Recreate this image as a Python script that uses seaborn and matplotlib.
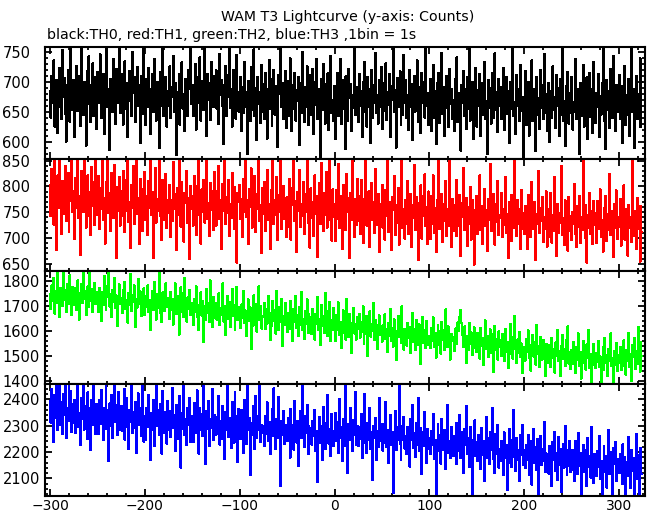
import numpy as np
import matplotlib
matplotlib.use("Agg")
import matplotlib.pyplot as plt
from matplotlib.ticker import MultipleLocator
import seaborn as sns

# ---------------- data (counts per 1 s bin, t = -300 ... 324 s) ----------------
t_start = -300

th0 = [
684, 640, 709, 664, 735, 625, 670, 702, 615, 692, 723, 658, 637, 752, 675, 706, 646, 600, 695, 719, 668, 633, 763, 686, 653,
702, 608, 677, 726, 651, 710, 689, 626, 777, 667, 644, 699, 681, 593, 717, 663, 742, 695, 632, 670, 730, 642, 707, 685, 621,
716, 665, 692, 745, 639, 679, 712, 612, 700, 668, 768, 657, 688, 586, 705, 675, 650, 737, 693, 630, 721, 682, 664, 756, 647,
691, 713, 628, 674, 734, 654, 698, 607, 686, 717, 667, 643, 749, 681, 707, 633, 671, 724, 660, 695, 597, 710, 678, 646, 770,
673, 628, 705, 657, 723, 688, 613, 678, 712, 649, 737, 666, 635, 699, 681, 589, 716, 659, 694, 755, 642, 676, 708, 625, 685,
659, 725, 639, 691, 674, 743, 650, 698, 578, 683, 667, 713, 628, 692, 732, 655, 680, 617, 705, 671, 642, 720, 688, 767, 662,
695, 643, 674, 729, 620, 708, 664, 687, 740, 635, 701, 677, 653, 781, 690, 610, 713, 669, 698, 636, 733, 684, 657, 709, 673,
719, 655, 692, 629, 746, 678, 702, 659, 596, 694, 726, 643, 711, 674, 776, 656, 687, 625, 720, 669, 699, 638, 744, 683, 650,
670, 708, 617, 691, 647, 732, 658, 682, 579, 701, 665, 634, 724, 675, 652, 754, 642, 689, 603, 707, 662, 683, 631, 728, 649,
696, 638, 714, 662, 605, 687, 736, 655, 704, 626, 675, 719, 645, 693, 668, 591, 711, 679, 770, 658, 698, 638, 684, 718, 623,
661, 701, 642, 739, 676, 617, 694, 654, 715, 635, 686, 668, 708, 595, 698, 648, 749, 673, 633, 691, 658, 725, 627, 682, 711,
645, 677, 721, 612, 700, 661, 738, 638, 687, 669, 572, 705, 652, 729, 676, 630, 696, 659, 714, 619, 683, 743, 648, 670, 634,
692, 604, 677, 714, 642, 665, 737, 629, 702, 654, 684, 587, 709, 661, 635, 721, 672, 696, 618, 678, 656, 763, 644, 691, 667,
633, 713, 660, 684, 608, 700, 650, 733, 671, 625, 707, 658, 688, 598, 719, 640, 695, 664, 748, 647, 677, 630, 703, 657, 724,
672, 621, 698, 651, 730, 636, 682, 661, 712, 607, 693, 670, 773, 649, 686, 590, 706, 657, 675, 717, 628, 691, 644, 744, 664,
702, 639, 678, 619, 719, 658, 696, 602, 684, 709, 650, 671, 735, 633, 691, 654, 614, 714, 665, 699, 640, 758, 660, 681, 628,
679, 705, 618, 662, 728, 639, 684, 596, 697, 651, 715, 631, 670, 747, 646, 691, 609, 676, 709, 656, 625, 721, 663, 688, 638,
669, 617, 704, 649, 740, 632, 681, 658, 585, 694, 665, 718, 642, 687, 621, 708, 655, 758, 635, 673, 700, 604, 679, 648, 723,
625, 686, 660, 712, 609, 697, 645, 677, 733, 638, 667, 579, 702, 656, 690, 630, 715, 665, 639, 747, 652, 683, 616, 704, 659,
691, 637, 673, 722, 620, 662, 708, 646, 684, 597, 700, 655, 677, 768, 642, 666, 613, 711, 659, 688, 634, 728, 651, 674, 565,
669, 718, 628, 659, 700, 610, 681, 649, 735, 634, 665, 688, 585, 708, 644, 673, 621, 719, 656, 695, 638, 746, 648, 679, 617,
663, 698, 599, 684, 639, 725, 652, 674, 623, 711, 659, 690, 609, 705, 645, 763, 634, 667, 593, 693, 655, 716, 630, 681, 648,
707, 620, 666, 649, 737, 637, 687, 660, 579, 698, 642, 674, 728, 625, 680, 655, 707, 604, 667, 715, 641, 688, 614, 733, 652,
631, 681, 658, 712, 607, 676, 645, 697, 758, 635, 665, 588, 702, 652, 684, 623, 721, 662, 639, 743, 669, 618, 695, 649, 680,
711, 638, 673, 597, 693, 655, 726, 628, 677, 645, 704, 610, 665, 771, 649, 688, 590, 672, 709, 637, 680, 659, 739, 624, 700,
]

th1 = [
802, 742, 834, 767, 726, 859, 785, 676, 821, 758, 879, 777, 708, 810, 747, 795, 840, 732, 764, 826, 712, 805, 772, 873, 751,
790, 698, 817, 758, 853, 739, 782, 667, 830, 769, 750, 870, 799, 720, 765, 821, 743, 789, 705, 837, 762, 809, 726, 880, 779,
745, 820, 718, 797, 757, 850, 734, 777, 689, 809, 766, 868, 749, 788, 713, 826, 770, 739, 841, 759, 661, 799, 753, 818, 724,
791, 742, 830, 711, 774, 812, 752, 860, 731, 769, 681, 802, 759, 840, 727, 786, 884, 746, 777, 689, 815, 765, 713, 795, 739,
828, 735, 782, 706, 810, 759, 864, 745, 789, 661, 769, 835, 730, 776, 752, 852, 742, 793, 696, 812, 763, 734, 824, 719, 773,
749, 803, 701, 773, 733, 848, 756, 785, 676, 796, 745, 878, 766, 722, 809, 753, 693, 788, 768, 830, 729, 777, 659, 801, 757,
782, 724, 820, 762, 705, 800, 745, 859, 769, 689, 794, 750, 813, 730, 776, 887, 737, 768, 703, 807, 755, 790, 715, 828, 743,
724, 790, 760, 839, 736, 773, 679, 804, 753, 857, 728, 780, 748, 812, 703, 766, 739, 826, 777, 718, 798, 757, 652, 788, 769,
803, 736, 776, 701, 814, 751, 869, 740, 774, 688, 795, 761, 835, 720, 769, 746, 820, 711, 785, 757, 881, 733, 764, 670, 797,
746, 809, 714, 777, 832, 735, 766, 678, 793, 756, 850, 727, 774, 744, 818, 696, 783, 751, 861, 717, 767, 801, 737, 777, 702,
779, 722, 814, 747, 697, 796, 763, 876, 732, 771, 673, 789, 753, 831, 721, 765, 742, 809, 707, 785, 750, 856, 729, 774, 681,
796, 738, 769, 703, 821, 747, 782, 664, 763, 807, 727, 846, 752, 714, 787, 744, 828, 720, 773, 734, 891, 756, 695, 794, 741,
766, 695, 792, 737, 843, 719, 755, 782, 678, 803, 743, 766, 715, 824, 751, 778, 661, 787, 734, 850, 755, 702, 776, 726, 814,
732, 781, 708, 812, 750, 690, 776, 741, 869, 724, 763, 790, 683, 755, 806, 734, 770, 710, 833, 746, 725, 785, 672, 766, 745,
803, 720, 758, 697, 793, 743, 860, 712, 769, 739, 676, 779, 754, 820, 706, 764, 730, 797, 687, 774, 750, 879, 719, 757, 699,
773, 728, 811, 707, 752, 786, 682, 763, 738, 842, 716, 779, 748, 657, 767, 735, 802, 699, 781, 742, 823, 723, 760, 689, 790,
745, 698, 782, 727, 821, 710, 758, 672, 773, 737, 856, 717, 749, 786, 692, 766, 733, 810, 703, 756, 724, 889, 741, 682, 775,
714, 763, 733, 813, 703, 753, 724, 784, 665, 768, 740, 836, 715, 747, 778, 684, 759, 728, 799, 697, 773, 736, 648, 754, 724,
782, 708, 747, 821, 716, 762, 689, 740, 794, 724, 755, 674, 775, 734, 843, 713, 751, 727, 786, 687, 766, 731, 810, 705, 744,
738, 787, 701, 756, 725, 819, 710, 746, 661, 769, 731, 784, 694, 753, 720, 876, 742, 704, 773, 727, 757, 679, 792, 717, 749,
707, 762, 732, 679, 784, 720, 753, 702, 809, 737, 717, 770, 657, 746, 727, 829, 709, 758, 732, 779, 692, 741, 718, 790, 683,
756, 702, 735, 787, 691, 745, 714, 818, 726, 665, 765, 710, 749, 730, 839, 705, 738, 686, 773, 723, 754, 675, 780, 713, 742,
696, 750, 728, 805, 708, 683, 761, 721, 781, 690, 740, 715, 869, 732, 700, 764, 652, 745, 719, 788, 707, 752, 689, 771, 725,
748, 691, 771, 717, 741, 794, 702, 734, 673, 758, 723, 782, 694, 747, 715, 824, 706, 752, 731, 664, 765, 719, 792, 698, 740,
722, 776, 685, 743, 710, 802, 697, 756, 732, 666, 764, 720, 741, 693, 851, 729, 703, 752, 679, 778, 717, 746, 654, 762, 711,
]

th2 = [
1745, 1687, 1781, 1718, 1812, 1669, 1757, 1713, 1834, 1734, 1654, 1770, 1749, 1699, 1869, 1725, 1764, 1675, 1788, 1739, 1706, 1822, 1750, 1662, 1776,
1705, 1771, 1732, 1682, 1801, 1749, 1645, 1739, 1788, 1712, 1833, 1728, 1759, 1663, 1746, 1778, 1697, 1866, 1718, 1768, 1675, 1743, 1791, 1707, 1753,
1737, 1674, 1771, 1722, 1639, 1753, 1704, 1820, 1726, 1685, 1779, 1734, 1859, 1697, 1747, 1656, 1764, 1716, 1810, 1692, 1741, 1618, 1732, 1785, 1706,
1732, 1671, 1763, 1711, 1795, 1686, 1722, 1633, 1752, 1703, 1827, 1678, 1741, 1715, 1781, 1615, 1728, 1693, 1806, 1707, 1757, 1658, 1746, 1697, 1770,
1663, 1738, 1694, 1781, 1676, 1721, 1603, 1705, 1760, 1683, 1796, 1700, 1645, 1745, 1690, 1841, 1670, 1725, 1634, 1754, 1707, 1680, 1789, 1696, 1732,
1709, 1646, 1755, 1682, 1726, 1625, 1702, 1789, 1667, 1740, 1692, 1584, 1714, 1773, 1674, 1751, 1656, 1810, 1695, 1637, 1733, 1686, 1763, 1663, 1710,
1690, 1624, 1728, 1675, 1777, 1654, 1701, 1602, 1685, 1753, 1661, 1718, 1554, 1697, 1644, 1766, 1671, 1711, 1636, 1801, 1680, 1616, 1735, 1687, 1650,
1710, 1645, 1677, 1749, 1624, 1690, 1662, 1789, 1637, 1700, 1584, 1675, 1740, 1649, 1715, 1616, 1684, 1767, 1661, 1704, 1602, 1679, 1775, 1642, 1694,
1669, 1611, 1705, 1652, 1760, 1630, 1681, 1579, 1659, 1725, 1638, 1693, 1526, 1673, 1621, 1742, 1649, 1708, 1597, 1676, 1777, 1642, 1700, 1609, 1660,
1656, 1710, 1608, 1688, 1629, 1740, 1645, 1563, 1671, 1621, 1720, 1639, 1682, 1589, 1759, 1650, 1604, 1696, 1636, 1727, 1540, 1659, 1624, 1712, 1643,
1596, 1669, 1631, 1719, 1606, 1651, 1560, 1687, 1635, 1740, 1612, 1661, 1578, 1696, 1623, 1754, 1602, 1648, 1568, 1680, 1627, 1725, 1591, 1665, 1617,
1653, 1588, 1688, 1614, 1565, 1666, 1627, 1735, 1603, 1646, 1543, 1704, 1621, 1660, 1592, 1750, 1634, 1578, 1677, 1611, 1714, 1558, 1641, 1604, 1690,
1624, 1558, 1662, 1603, 1713, 1585, 1635, 1531, 1613, 1681, 1593, 1645, 1564, 1727, 1615, 1576, 1667, 1600, 1510, 1631, 1691, 1589, 1625, 1565, 1655,
1608, 1668, 1573, 1633, 1596, 1698, 1547, 1618, 1586, 1659, 1498, 1611, 1677, 1577, 1628, 1601, 1709, 1562, 1643, 1589, 1527, 1621, 1661, 1582, 1604,
1556, 1621, 1586, 1665, 1568, 1605, 1514, 1630, 1581, 1686, 1561, 1610, 1537, 1645, 1593, 1484, 1598, 1659, 1574, 1614, 1550, 1698, 1585, 1525, 1607,
1596, 1541, 1631, 1572, 1613, 1512, 1587, 1671, 1557, 1608, 1524, 1642, 1575, 1544, 1625, 1562, 1466, 1593, 1656, 1552, 1604, 1531, 1639, 1579, 1545,
1577, 1531, 1612, 1561, 1653, 1537, 1590, 1492, 1572, 1624, 1545, 1598, 1509, 1636, 1563, 1604, 1524, 1685, 1568, 1534, 1617, 1552, 1485, 1586, 1559,
1573, 1520, 1605, 1547, 1612, 1634, 1598, 1655, 1682, 1630, 1584, 1535, 1617, 1554, 1471, 1580, 1523, 1632, 1548, 1593, 1503, 1569, 1614, 1531, 1563,
1514, 1590, 1543, 1489, 1611, 1538, 1570, 1462, 1553, 1641, 1527, 1578, 1496, 1559, 1605, 1511, 1585, 1434, 1548, 1620, 1522, 1566, 1485, 1597, 1534,
1561, 1500, 1586, 1532, 1479, 1607, 1515, 1554, 1452, 1544, 1627, 1507, 1575, 1488, 1542, 1659, 1525, 1472, 1565, 1512, 1595, 1495, 1549, 1432, 1533,
1534, 1481, 1567, 1514, 1602, 1490, 1544, 1440, 1523, 1583, 1497, 1556, 1465, 1622, 1507, 1539, 1454, 1574, 1517, 1485, 1563, 1528, 1420, 1548, 1502,
1473, 1541, 1508, 1454, 1571, 1493, 1528, 1433, 1553, 1499, 1602, 1480, 1517, 1420, 1538, 1584, 1486, 1525, 1459, 1563, 1504, 1618, 1469, 1513, 1447,
1522, 1468, 1554, 1497, 1431, 1535, 1484, 1589, 1461, 1514, 1409, 1496, 1560, 1472, 1528, 1445, 1545, 1491, 1602, 1452, 1505, 1392, 1487, 1547, 1465,
1450, 1509, 1477, 1560, 1457, 1497, 1387, 1485, 1536, 1445, 1572, 1471, 1504, 1420, 1526, 1480, 1589, 1460, 1492, 1369, 1518, 1464, 1551, 1438, 1501,
1472, 1535, 1443, 1512, 1461, 1561, 1488, 1425, 1524, 1478, 1590, 1456, 1507, 1401, 1542, 1495, 1572, 1446, 1519, 1468, 1615, 1486, 1436, 1554, 1500,
]

th3 = [
2394, 2311, 2439, 2352, 2237, 2415, 2328, 2479, 2285, 2376, 2503, 2303, 2388, 2267, 2419, 2341, 2464, 2253, 2367, 2317, 2499, 2334, 2433, 2276, 2383,
2311, 2397, 2272, 2359, 2450, 2294, 2346, 2227, 2406, 2324, 2496, 2285, 2376, 2335, 2248, 2427, 2314, 2367, 2206, 2399, 2303, 2465, 2350, 2268, 2383,
2349, 2269, 2398, 2305, 2435, 2332, 2245, 2368, 2287, 2458, 2319, 2360, 2167, 2384, 2298, 2417, 2252, 2344, 2494, 2314, 2377, 2263, 2428, 2329, 2284,
2374, 2279, 2339, 2439, 2247, 2323, 2404, 2296, 2212, 2359, 2314, 2472, 2272, 2351, 2290, 2391, 2197, 2327, 2422, 2303, 2367, 2262, 2456, 2311, 2239,
2336, 2245, 2367, 2295, 2417, 2313, 2168, 2348, 2284, 2399, 2222, 2326, 2515, 2299, 2358, 2266, 2383, 2312, 2194, 2431, 2305, 2271, 2351, 2232, 2395,
2283, 2357, 2258, 2324, 2443, 2293, 2339, 2203, 2378, 2303, 2250, 2413, 2313, 2140, 2346, 2286, 2465, 2266, 2327, 2227, 2366, 2304, 2405, 2237, 2335,
2319, 2239, 2387, 2302, 2273, 2434, 2327, 2194, 2365, 2284, 2344, 2260, 2485, 2303, 2156, 2357, 2287, 2394, 2222, 2324, 2291, 2439, 2246, 2340, 2309,
2266, 2332, 2291, 2412, 2228, 2317, 2251, 2375, 2304, 2175, 2353, 2282, 2461, 2258, 2329, 2290, 2216, 2391, 2311, 2235, 2426, 2270, 2338, 2161, 2364,
2309, 2248, 2359, 2278, 2197, 2397, 2300, 2232, 2461, 2283, 2328, 2114, 2310, 2265, 2376, 2290, 2211, 2414, 2254, 2335, 2285, 2521, 2237, 2302, 2272,
2300, 2222, 2336, 2269, 2388, 2240, 2313, 2192, 2286, 2364, 2259, 2441, 2278, 2210, 2325, 2254, 2409, 2293, 2070, 2317, 2264, 2355, 2230, 2304, 2276,
2241, 2329, 2276, 2178, 2364, 2258, 2301, 2209, 2395, 2283, 2236, 2317, 2147, 2293, 2355, 2252, 2464, 2268, 2220, 2338, 2272, 2378, 2191, 2297, 2257,
2292, 2228, 2319, 2261, 2358, 2203, 2281, 2085, 2257, 2334, 2236, 2298, 2170, 2371, 2266, 2212, 2310, 2253, 2417, 2232, 2289, 2186, 2344, 2267, 2221,
2279, 2347, 2242, 2315, 2196, 2402, 2252, 2296, 2164, 2325, 2269, 2464, 2221, 2286, 2119, 2305, 2247, 2368, 2273, 2205, 2321, 2263, 2426, 2228, 2297,
2221, 2296, 2251, 2343, 2178, 2270, 2235, 2420, 2261, 2195, 2311, 2244, 2368, 2210, 2276, 2093, 2298, 2252, 2328, 2171, 2279, 2220, 2405, 2241, 2307,
2271, 2205, 2307, 2236, 2390, 2220, 2282, 2159, 2254, 2342, 2226, 2275, 2045, 2261, 2355, 2209, 2293, 2244, 2457, 2229, 2169, 2297, 2247, 2332, 2213,
2259, 2193, 2294, 2232, 2145, 2324, 2245, 2379, 2215, 2271, 2182, 2310, 2228, 2406, 2205, 2253, 2291, 2117, 2274, 2221, 2352, 2236, 2159, 2287, 2210,
2253, 2193, 2279, 2228, 2345, 2173, 2246, 1992, 2216, 2305, 2204, 2264, 2156, 2327, 2233, 2209, 2284, 2137, 2258, 2377, 2195, 2243, 2177, 2296, 2230,
2185, 2260, 2222, 2310, 2153, 2241, 2202, 2341, 2177, 2275, 2215, 2120, 2286, 2225, 2376, 2192, 2253, 2143, 2296, 2208, 2033, 2246, 2185, 2320, 2219,
2239, 2166, 2263, 2201, 2136, 2290, 2190, 2242, 2089, 2217, 2334, 2179, 2253, 2154, 2277, 2206, 2367, 2172, 2229, 2120, 2269, 2194, 2302, 2141, 2213,
2165, 2242, 2189, 2114, 2274, 2177, 2226, 2054, 2201, 2289, 2158, 2246, 2142, 2217, 2361, 2182, 2127, 2254, 2170, 2208, 2091, 2266, 2190, 2303, 2152,
2207, 2140, 2227, 2170, 2265, 2111, 2191, 2242, 2076, 2200, 2287, 2157, 2219, 2132, 2249, 2024, 2181, 2259, 2150, 2210, 2164, 2314, 2123, 2195, 2168,
2192, 2118, 2223, 2158, 2070, 2239, 2171, 2277, 2129, 2197, 2092, 2256, 2151, 2211, 2049, 2179, 2232, 2141, 2300, 2164, 2111, 2207, 2147, 2241, 2125,
2133, 2206, 2154, 2089, 2241, 2165, 2116, 2273, 2148, 2197, 2038, 2175, 2228, 2126, 2207, 2159, 2070, 2253, 2143, 2186, 2103, 2294, 2162, 2082, 2193,
2179, 2108, 2205, 2143, 2262, 2098, 2167, 2021, 2153, 2224, 2123, 2186, 2065, 2164, 2282, 2118, 2199, 2137, 2041, 2216, 2156, 2238, 2091, 2172, 2135,
2121, 2194, 2151, 2078, 2230, 2134, 2180, 2005, 2163, 2109, 2257, 2142, 2065, 2209, 2127, 2176, 2040, 2155, 2270, 2096, 2188, 2027, 2145, 2216, 2116,
]

series = [th0, th1, th2, th3]
colors = ["#000000", "#ff0000", "#00ff00", "#0000ff"]
title = "WAM T3 Lightcurve (y-axis: Counts)"
subtitle = "black:TH0, red:TH1, green:TH2, blue:TH3 ,1bin = 1s"
x_major_ticks = [-300, -200, -100, 0, 100, 200, 300]

# ---------------- layout / style ----------------
W, H = 652, 515
sns.set_theme(style="ticks")
plt.rcParams["font.family"] = ["DejaVu Sans"]

fig = plt.figure(figsize=(W / 100, H / 100), dpi=100)
fig.patch.set_facecolor("white")

left_px, right_px = 45.0, 644.5
edges_px = [47.3, 159.0, 271.0, 384.0, 496.0]
ylims = [(571, 757), (636, 853), (1387, 1839), (2033, 2458)]
ymajor = [50, 50, 100, 100]
yminor = [10, 10, 20, 20]
xlim = (-305.3, 326.7)
label_left_px = 2.5

axes = []
for i, (vals, col) in enumerate(zip(series, colors)):
    top_px, bot_px = edges_px[i], edges_px[i + 1]
    ax = fig.add_axes([left_px / W, 1 - bot_px / H,
                       (right_px - left_px) / W, (bot_px - top_px) / H])
    t = np.arange(len(vals)) + t_start
    sns.lineplot(x=t, y=np.asarray(vals, dtype=float), ax=ax, color=col,
                 linewidth=0.75, drawstyle="steps-mid", estimator=None,
                 antialiased=False, legend=False)
    ax.set_xlim(*xlim)
    ax.set_ylim(*ylims[i])
    ax.set_xticks(x_major_ticks)
    ax.xaxis.set_minor_locator(MultipleLocator(20))
    ax.yaxis.set_major_locator(MultipleLocator(ymajor[i]))
    ax.yaxis.set_minor_locator(MultipleLocator(yminor[i]))
    ax.set_xlabel("")
    ax.set_ylabel("")
    ax.set_facecolor("white")
    ax.grid(False)
    for s in ax.spines.values():
        s.set_visible(True)
        s.set_linewidth(1.5)
        s.set_color("black")
    ax.tick_params(which="both", direction="in", top=True, right=True,
                   color="black", width=1.3, labelcolor="black")
    ax.tick_params(which="major", length=5)
    ax.tick_params(which="minor", length=2.5)
    ax.tick_params(axis="y", which="major", labelsize=10.5,
                   pad=(left_px - label_left_px) * 72 / 100)
    ax.tick_params(axis="x", which="major", labelsize=10, pad=2.5)
    for lbl in ax.get_yticklabels():
        lbl.set_horizontalalignment("left")
    if i < 3:
        ax.tick_params(axis="x", labelbottom=False)
    axes.append(ax)

fig.text(348 / W, 1 - 21 / H, title, ha="center", va="baseline",
         fontsize=10.2, color="black")
fig.text(47 / W, 1 - 39.5 / H, subtitle, ha="left", va="baseline",
         fontsize=10.2, color="black")

fig.savefig("out.png", dpi=100, facecolor="white")
